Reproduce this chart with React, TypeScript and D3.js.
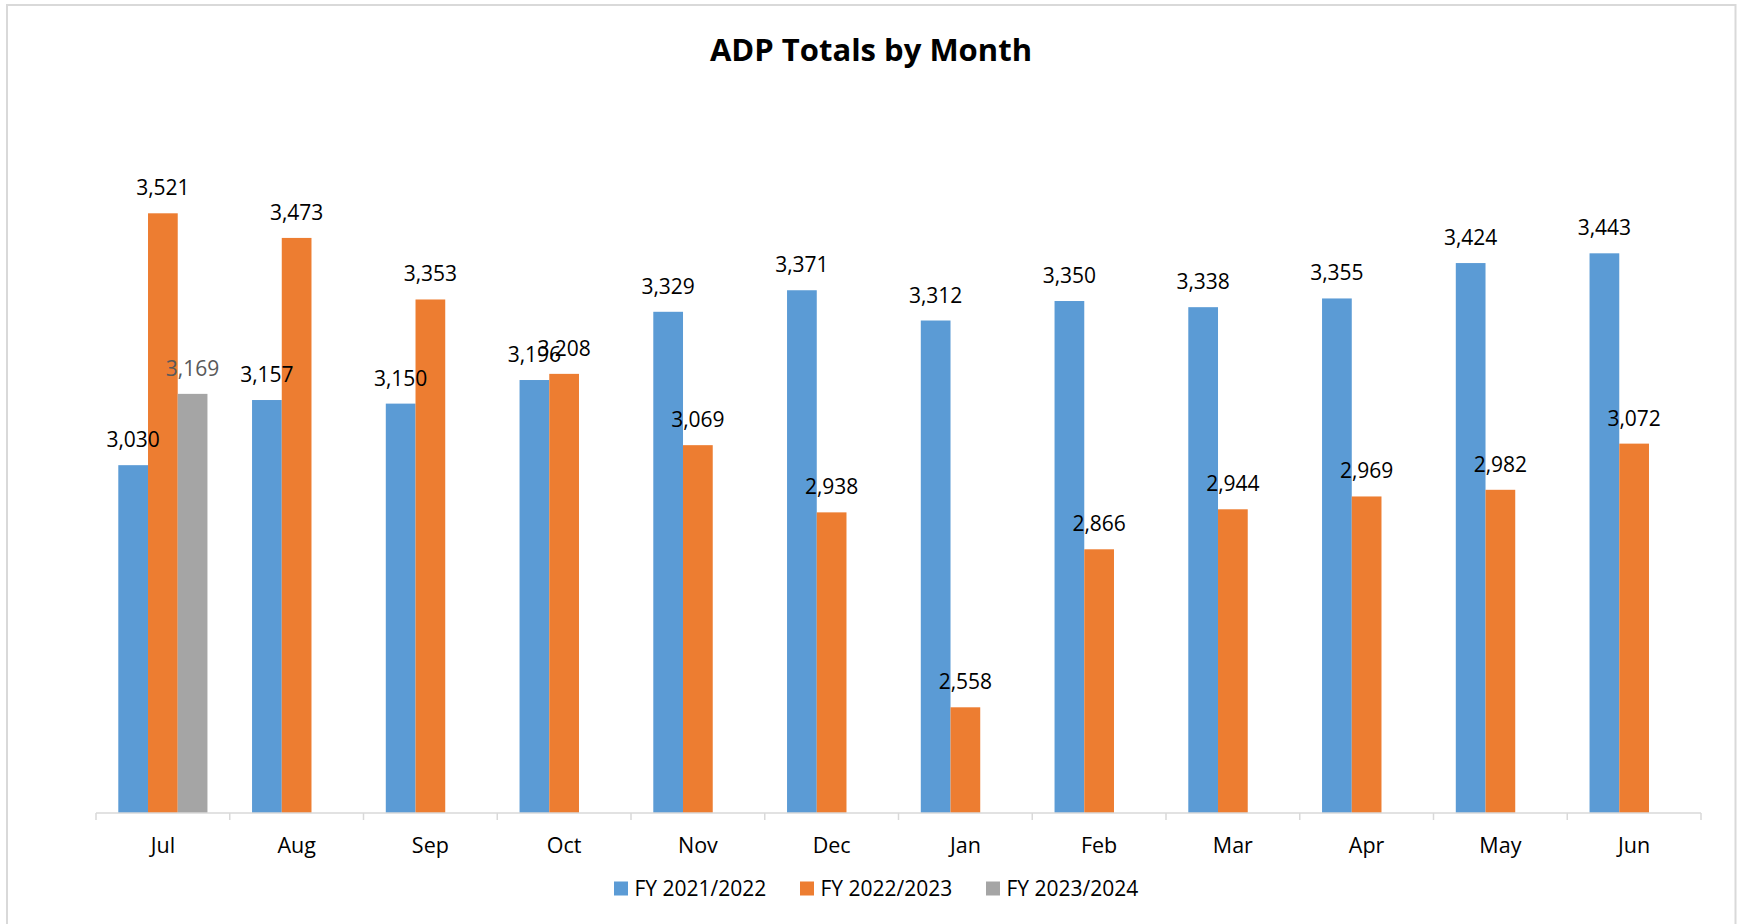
import React from "react";
import * as d3 from "d3";

const months = ["Jul", "Aug", "Sep", "Oct", "Nov", "Dec", "Jan", "Feb", "Mar", "Apr", "May", "Jun"];
const seriesNames = ["FY 2021/2022", "FY 2022/2023", "FY 2023/2024"];
const fy2122 = [3030, 3157, 3150, 3196, 3329, 3371, 3312, 3350, 3338, 3355, 3424, 3443];
const fy2223 = [3521, 3473, 3353, 3208, 3069, 2938, 2558, 2866, 2944, 2969, 2982, 3072];
const fy2324: (number | null)[] = [3169, null, null, null, null, null, null, null, null, null, null, null];
const seriesValues = [fy2122, fy2223, fy2324];
const colors = ["#5B9BD5", "#ED7D31", "#A5A5A5"];
const labelColors = ["#000000", "#000000", "#595959"];
const title = "ADP Totals by Month";

const W = 1739;
const H = 924;
const FONT = "'Open Sans', 'Noto Sans', sans-serif";

export default function App() {
  const axisY = 813;
  const x = d3.scaleBand<string>().domain(months).range([96, 1701]).paddingInner(0).paddingOuter(0);
  const xs = d3.scaleBand<string>().domain(seriesNames).range([0, x.bandwidth()]).paddingInner(0).paddingOuter(0.75);
  const y = d3.scaleLinear().domain([2350, 3600]).range([814, 814 - 1250 * 0.51298]);
  const fmt = d3.format(",");

  const legendStart = 614;
  const legendStep = 186;

  return (
    <svg width={W} height={H} style={{ position: "absolute", left: 0, top: 0, background: "#fff" }}>
      <rect x={0} y={0} width={W} height={H} fill="#fff" />
      <rect x={7} y={5} width={1728.5} height={940} fill="#fff" stroke="#d9d9d9" strokeWidth={2} />
      <text x={871} y={60.5} textAnchor="middle" fontFamily={FONT} fontWeight={700} fontSize={31} fill="#000">
        {title}
      </text>

      {seriesValues.map((vals, si) =>
        vals.map((v, mi) =>
          v == null ? null : (
            <rect
              key={`b-${si}-${mi}`}
              x={(x(months[mi]) as number) + (xs(seriesNames[si]) as number)}
              y={y(v)}
              width={xs.bandwidth()}
              height={axisY - y(v)}
              fill={colors[si]}
            />
          )
        )
      )}

      {seriesValues.map((vals, si) =>
        vals.map((v, mi) =>
          v == null ? null : (
            <text
              key={`l-${si}-${mi}`}
              x={(x(months[mi]) as number) + (xs(seriesNames[si]) as number) + xs.bandwidth() / 2}
              y={y(v) - 18}
              textAnchor="middle"
              fontFamily={FONT}
              fontSize={21}
              fill={labelColors[si]}
            >
              {fmt(v)}
            </text>
          )
        )
      )}

      <line x1={x.range()[0]} x2={x.range()[1]} y1={axisY} y2={axisY} stroke="#d9d9d9" strokeWidth={1.5} />
      {[...months.map((m) => x(m) as number), x.range()[1]].map((tx, i) => (
        <line key={`t-${i}`} x1={tx} x2={tx} y1={axisY} y2={axisY + 7} stroke="#d9d9d9" strokeWidth={1.5} />
      ))}
      {months.map((m) => (
        <text
          key={`m-${m}`}
          x={(x(m) as number) + x.bandwidth() / 2}
          y={852.5}
          textAnchor="middle"
          fontFamily={FONT}
          fontSize={21.5}
          fill="#000"
        >
          {m}
        </text>
      ))}

      {seriesNames.map((s, i) => (
        <g key={`lg-${i}`} transform={`translate(${legendStart + i * legendStep},0)`}>
          <rect x={0} y={881.5} width={14} height={14} fill={colors[i]} />
          <text x={20.5} y={896} fontFamily={FONT} fontSize={21} fill="#000">
            {s}
          </text>
        </g>
      ))}
    </svg>
  );
}
